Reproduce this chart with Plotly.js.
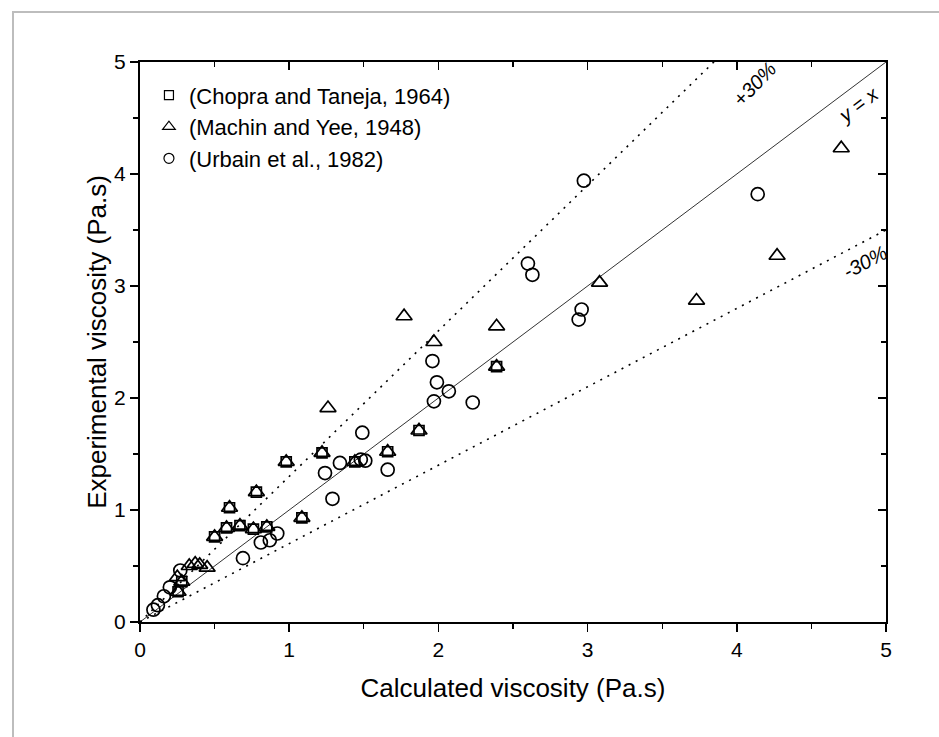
<!DOCTYPE html>
<html>
<head>
<meta charset="utf-8">
<script src="https://cdn.plot.ly/plotly-3.0.1.min.js"></script>
<style>
  html, body { margin: 0; padding: 0; background: #fff; }
  #wrap { position: relative; width: 939px; height: 737px; overflow: hidden; }
  #chart { width: 939px; height: 737px; }
  #frame { position: absolute; left: 12px; top: 11px; width: 1000px; height: 800px;
           border-left: 2px solid #bdbdbd; border-top: 2px solid #bdbdbd; pointer-events: none; }
</style>
</head>
<body>
<div id="wrap">
  <div id="chart"></div>
  <div id="frame"></div>
</div>
<script>
// ---- Data ----
const seriesNames = ["(Chopra and Taneja, 1964)", "(Machin and Yee, 1948)", "(Urbain et al., 1982)"];

const chopraCalc = [0.255, 0.28, 0.50, 0.58, 0.60, 0.67, 0.76, 0.78, 0.85, 0.98, 1.085, 1.22, 1.44, 1.66, 1.87, 2.39];
const chopraExp  = [0.27, 0.36, 0.76, 0.84, 1.02, 0.86, 0.83, 1.16, 0.85, 1.43, 0.93, 1.51, 1.43, 1.52, 1.71, 2.28];

const machinCalc = [0.25, 0.255, 0.28, 0.33, 0.37, 0.40, 0.45, 0.50, 0.58, 0.60, 0.67, 0.76, 0.78, 0.85, 0.98, 1.085, 1.22, 1.26, 1.44, 1.66, 1.77, 1.87, 1.97, 2.39, 2.39, 3.08, 3.73, 4.27, 4.70];
const machinExp  = [0.40, 0.27, 0.36, 0.50, 0.52, 0.51, 0.485, 0.76, 0.84, 1.02, 0.86, 0.83, 1.16, 0.85, 1.43, 0.93, 1.51, 1.91, 1.43, 1.52, 2.73, 1.71, 2.50, 2.64, 2.28, 3.03, 2.87, 3.27, 4.23];

const urbainCalc = [0.09, 0.12, 0.16, 0.20, 0.27, 0.69, 0.81, 0.87, 0.92, 1.24, 1.29, 1.34, 1.48, 1.49, 1.51, 1.66, 1.96, 1.97, 1.99, 2.07, 2.23, 2.60, 2.63, 2.94, 2.96, 2.975, 4.14];
const urbainExp  = [0.11, 0.15, 0.23, 0.31, 0.46, 0.57, 0.71, 0.73, 0.79, 1.33, 1.10, 1.42, 1.45, 1.69, 1.44, 1.36, 2.33, 1.97, 2.14, 2.06, 1.96, 3.20, 3.10, 2.70, 2.79, 3.94, 3.82];

// reference lines: y = ratio * x
const refRatios = [1.0, 1.3, 0.7];
const refLabels = ["y = x", "+30%", "-30%"];
const axisRange = [0, 5];
const tickVals = [0, 1, 2, 3, 4, 5];

// ---- Build traces ----
const mk = {color: "#000", width: 1.7};
const traces = [];

refRatios.forEach((r, i) => {
  traces.push({
    x: axisRange.slice(), y: axisRange.map(v => v * r),
    mode: "lines", type: "scatter", showlegend: false, hoverinfo: "skip",
    line: {color: i === 0 ? "#333" : "#000", width: i === 0 ? 1 : 1.6, dash: i === 0 ? "solid" : "2px,6px"}
  });
});

traces.push({x: chopraCalc, y: chopraExp, type: "scatter", mode: "markers", name: seriesNames[0], showlegend: false,
  marker: {symbol: "square-open", size: 10, color: "#000", line: mk}});
traces.push({x: machinCalc, y: machinExp, type: "scatter", mode: "markers", name: seriesNames[1], showlegend: false,
  marker: {symbol: "triangle-up-open", size: 14, color: "#000", line: mk}});
traces.push({x: urbainCalc, y: urbainExp, type: "scatter", mode: "markers", name: seriesNames[2], showlegend: false,
  marker: {symbol: "circle-open", size: 13, color: "#000", line: mk}});

// legend entries (smaller symbols as in the reference)
const legSym = ["square-open", "triangle-up-open", "circle-open"];
const legSize = [9, 11, 10];
seriesNames.forEach((n, i) => {
  traces.push({x: [null], y: [null], type: "scatter", mode: "markers", name: n, showlegend: true,
    marker: {symbol: legSym[i], size: legSize[i], color: "#000", line: {color: "#000", width: 1.2}}});
});

const font = "Liberation Sans, Arial, sans-serif";
const baseAxis = {
  range: axisRange, tickvals: tickVals, showgrid: false, zeroline: false,
  showline: true, linecolor: "#000", linewidth: 2,
  ticks: "outside", ticklen: 8, tickwidth: 1.6, tickcolor: "#000",
  tickfont: {family: font, size: 21, color: "#000"},
  minor: {dtick: 0.5, ticks: "outside", ticklen: 5, tickwidth: 1.4, tickcolor: "#000", showgrid: false},
  fixedrange: true
};

const layout = {
  width: 939, height: 737,
  margin: {l: 140, r: 53, t: 62, b: 115},
  paper_bgcolor: "#fff", plot_bgcolor: "#fff",
  font: {family: font, color: "#000"},
  showlegend: true,
  legend: {x: 0.012, y: 0.978, xanchor: "left", yanchor: "top", bgcolor: "rgba(0,0,0,0)",
           font: {family: font, size: 22, color: "#000"}, itemwidth: 30, tracegroupgap: 0},
  xaxis: Object.assign({}, baseAxis, {
    title: {text: "Calculated viscosity (Pa.s)", font: {family: font, size: 26, color: "#000"}, standoff: 19}
  }),
  yaxis: Object.assign({}, baseAxis, {
    title: {text: "Experimental viscosity (Pa.s)", font: {family: font, size: 26, color: "#000"}, standoff: 0}
  }),
  xaxis2: Object.assign({}, baseAxis, {overlaying: "x", side: "top", ticks: "inside", showticklabels: false,
    minor: {dtick: 0.5, ticks: "inside", ticklen: 5, tickwidth: 1.4, tickcolor: "#000", showgrid: false}}),
  yaxis2: Object.assign({}, baseAxis, {overlaying: "y", side: "right", ticks: "inside", showticklabels: false,
    minor: {dtick: 0.5, ticks: "inside", ticklen: 5, tickwidth: 1.4, tickcolor: "#000", showgrid: false}}),
  annotations: [
    {x: 4.81, y: 4.62, text: refLabels[0], showarrow: false, textangle: -37,
     font: {family: font, size: 20, color: "#000"}, xref: "x", yref: "y"},
    {x: 4.12, y: 4.8, text: refLabels[1], showarrow: false, textangle: -46,
     font: {family: font, size: 20, color: "#000"}, xref: "x", yref: "y"},
    {x: 4.86, y: 3.21, text: refLabels[2], showarrow: false, textangle: -28,
     font: {family: font, size: 20, color: "#000"}, xref: "x", yref: "y"}
  ]
};
layout.annotations.forEach(a => { a.text = "<i>" + a.text + "</i>"; });

// dummy trace to anchor the mirror axes
traces.push({x: [null], y: [null], xaxis: "x2", yaxis: "y2", type: "scatter", mode: "markers", showlegend: false, hoverinfo: "skip"});

Plotly.newPlot("chart", traces, layout, {staticPlot: true, displayModeBar: false});
</script>
</body>
</html>
